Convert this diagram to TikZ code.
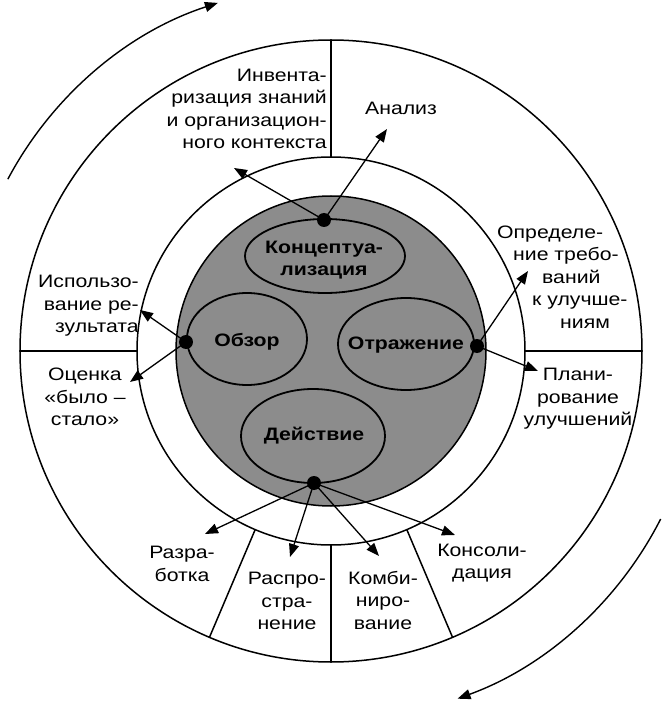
\documentclass[tikz,border=0pt]{standalone}
\usepackage{fontspec}
\setmainfont{Liberation Sans}[FakeStretch=1.18]
\usetikzlibrary{arrows.meta}
\newcommand{\lblfont}{\fontsize{18}{22.5}\selectfont}
\tikzset{
  >={Triangle[length=13pt,width=10pt]},
  ring/.style={draw=black,line width=1.5pt},
  stage/.style={draw=black,line width=1.8pt},
  hub/.style={circle,fill=black,inner sep=0pt,minimum size=14pt},
  lbl/.style={font=\lblfont,align=center,inner sep=0pt},
  stagelbl/.style={font=\lblfont\bfseries,align=center,inner sep=0pt},
  emit/.style={->,line width=1.3pt},
  cyclearrow/.style={->,line width=1.4pt}
}
\begin{document}
\begin{tikzpicture}[x=1pt,y=1pt]
  \useasboundingbox (-331,-353) rectangle (338,351);
  % rings and sectors
  \draw[ring] (0,0) circle[radius=311];
  \draw[ring] (0,0) circle[radius=194];
  \draw[ring,fill=black!45] (0,0) circle[radius=155];
  \foreach \a in {0,90,180,247,270,293}
    \draw[ring] (\a:194) -- (\a:311);
  % stages
  \draw[stage] (-6,95) ellipse[x radius=80,y radius=37];
  \draw[stage] (-84,12) ellipse[x radius=60,y radius=46];
  \draw[stage] (75,7) ellipse[x radius=68,y radius=46];
  \draw[stage] (-18,-85) ellipse[x radius=72,y radius=47];
  \node[stagelbl] (konc) at (-7,91) {Концептуа-\\лизация};
  \node[stagelbl] (obzor) at (-84,9) {Обзор};
  \node[stagelbl] (otraj) at (75,6) {Отражение};
  \node[stagelbl] (deistv) at (-17,-85) {Действие};
  % hubs
  \node[hub] (hubK) at (-7,131) {};
  \node[hub] (hubO) at (-145,9) {};
  \node[hub] (hubR) at (146,5) {};
  \node[hub] (hubD) at (-17,-132) {};
  % arrow ends
  \coordinate (tInv) at (-97,183);
  \coordinate (tAn) at (56,222);
  \coordinate (tIsp) at (-191,41);
  \coordinate (tOc) at (-201,-31);
  \coordinate (tOpr) at (197,80);
  \coordinate (tPl) at (207,-20);
  \coordinate (tRaz) at (-126,-183);
  \coordinate (tRas) at (-41,-206);
  \coordinate (tKom) at (48,-205);
  \coordinate (tKon) at (124,-184);
  \draw[emit] (hubK.center) -- (tInv);
  \draw[emit] (hubK.center) -- (tAn);
  \draw[emit] (hubO.center) -- (tIsp);
  \draw[emit] (hubO.center) -- (tOc);
  \draw[emit] (hubR.center) -- (tOpr);
  \draw[emit] (hubR.center) -- (tPl);
  \draw[emit] (hubD.center) -- (tRaz);
  \draw[emit] (hubD.center) -- (tRas);
  \draw[emit] (hubD.center) -- (tKom);
  \draw[emit] (hubD.center) -- (tKon);
  % sector labels
  \node[lbl,align=right,anchor=east] (inv) at (-4,242) {Инвента-\\ризация знаний\\и организацион-\\ного контекста};
  \node[lbl] (an) at (70,243) {Анализ};
  \node[lbl,align=left,anchor=west] (opr) at (166,74) {Определе-\\\hspace*{16pt}ние требо-\\\hspace*{45pt}ваний\\\hspace*{35pt}к улучше-\\\hspace*{63pt}ниям};
  \node[lbl,align=right,anchor=east] (isp) at (-192,45) {Использо-\\вание ре-\\зультата};
  \node[lbl] (oc) at (-246,-46) {Оценка\\«было –\\стало»};
  \node[lbl] (pl) at (247,-48) {Плани-\\рование\\улучшений};
  \node[lbl] (raz) at (-149,-213) {Разра-\\ботка};
  \node[lbl] (ras) at (-44,-250) {Распро-\\стра-\\нение};
  \node[lbl] (kom) at (52,-249) {Комби-\\ниро-\\вание};
  \node[lbl] (kon) at (151,-212) {Консоли-\\дация};
  % cycle arrows
  \draw[cyclearrow] (152:366) arc[start angle=152,end angle=108,radius=366];
  \draw[cyclearrow] (-27:370) arc[start angle=-27,end angle=-70,radius=370];
\end{tikzpicture}
\end{document}
